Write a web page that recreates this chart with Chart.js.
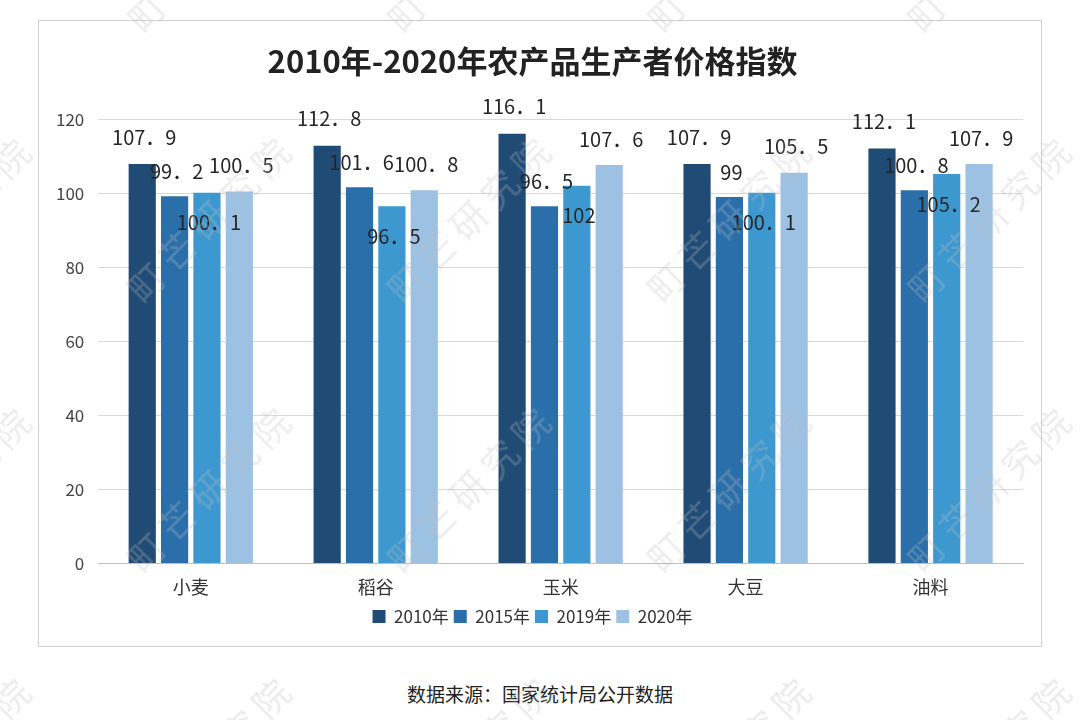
<!DOCTYPE html>
<html>
<head>
<meta charset="utf-8">
<script src="https://cdn.jsdelivr.net/npm/chart.js@4"></script>
<style>
    body { margin: 0; width: 1080px; height: 720px; background: #fff; position: relative; overflow: hidden; font-family: "Noto Sans CJK SC", sans-serif; }
    #box { position: absolute; left: 38px; top: 20px; width: 1002px; height: 625px; border: 1px solid #d0d0d0; }
    #source { position: absolute; left: 0; width: 1080px; top: 680px; text-align: center; font-size: 19px; color: #222; }
    .wm { position: absolute; font-size: 36px; color: rgba(190, 190, 190, 0.28); transform: rotate(-45deg); white-space: nowrap; letter-spacing: 8px; pointer-events: none; }
</style>
</head>
<body>
<div id="box"><canvas id="priceChart" width="1002" height="625"></canvas></div>
<div id="source">数据来源：国家统计局公开数据</div>
<div id="marks"></div>
<script>
// Chart data
const categories = ['小麦', '稻谷', '玉米', '大豆', '油料'];
const years = ['2010年', '2015年', '2019年', '2020年'];
const values2010 = [107.9, 112.8, 116.1, 107.9, 112.1];
const values2015 = [99.2, 101.6, 96.5, 99, 100.8];
const values2019 = [100.1, 96.5, 102, 100.1, 105.2];
const values2020 = [100.5, 100.8, 107.6, 105.5, 107.9];
const yTicks = [0, 20, 40, 60, 80, 100, 120];

const colors = ['#1f4b75', '#2b6faa', '#3d98cf', '#9dc1e3'];
// label shift from bar top (2019 labels sit inside the bar)
const labelShift = [-27, -25, 30, -26];

// Watermark
const marks = document.getElementById('marks');
for (let j = -1; j <= 2; j++) {
    for (let i = -1; i <= 4; i++) {
        const d = document.createElement('div');
        d.className = 'wm';
        d.textContent = '町芒研究院';
        d.style.left = (220 + 260 * i - 120) + 'px';
        d.style.top = (215 + 270 * j - 25) + 'px';
        marks.appendChild(d);
    }
}

// Value labels on top of the bars
const valueLabels = {
    id: 'valueLabels',
    afterDatasetsDraw(chart) {
        const ctx = chart.ctx;
        ctx.save();
        ctx.font = '20px "Noto Sans CJK SC"';
        ctx.fillStyle = '#262626';
        ctx.textAlign = 'center';
        ctx.textBaseline = 'middle';
        chart.data.datasets.forEach((ds, di) => {
            chart.getDatasetMeta(di).data.forEach((bar, i) => {
                const txt = String(ds.data[i]).replace('.', '．');
                ctx.fillText(txt, bar.x + 2, bar.y + labelShift[di]);
            });
        });
        ctx.restore();
    }
};

const priceCtx = document.getElementById('priceChart').getContext('2d');
new Chart(priceCtx, {
    type: 'bar',
    data: {
        labels: categories,
        datasets: [values2010, values2015, values2019, values2020].map((d, i) => ({
            label: years[i],
            data: d,
            backgroundColor: colors[i],
            categoryPercentage: 0.7,
            barPercentage: 0.84
        }))
    },
    options: {
        responsive: false,
        animation: false,
        layout: { padding: { left: 3, right: 18, bottom: 11 } },
        plugins: {
            title: {
                display: true,
                text: '2010年-2020年农产品生产者价格指数',
                color: '#222',
                font: { family: '"Noto Sans CJK SC"', size: 31, weight: 'bold' },
                padding: { top: 22, bottom: 39 }
            },
            legend: {
                position: 'bottom',
                labels: {
                    boxWidth: 13,
                    boxHeight: 13,
                    padding: 5,
                    color: '#333',
                    font: { family: '"Noto Sans CJK SC"', size: 17 }
                }
            },
            tooltip: { enabled: false }
        },
        scales: {
            x: {
                grid: { display: false },
                border: { color: '#bfbfbf' },
                ticks: { color: '#333', font: { family: '"Noto Sans CJK SC"', size: 18 }, padding: 5 }
            },
            y: {
                min: 0,
                max: 120,
                afterBuildTicks(axis) { axis.ticks = yTicks.map(v => ({ value: v })); },
                grid: { color: '#d9d9d9', drawTicks: false },
                border: { display: false },
                ticks: { color: '#444', font: { family: '"Noto Sans CJK SC"', size: 17 }, padding: 14 }
            }
        }
    },
    plugins: [valueLabels]
});
</script>
</body>
</html>
